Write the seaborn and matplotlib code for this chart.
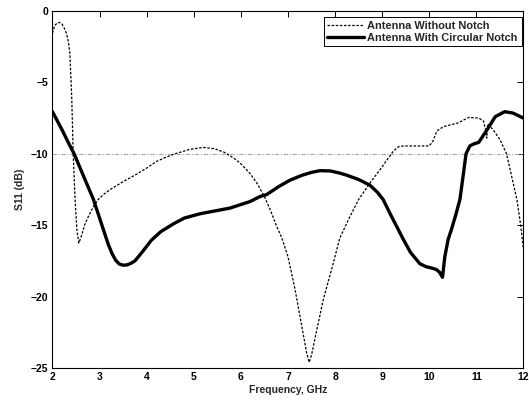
"""S11 comparison: antenna with and without circular notch."""

import matplotlib
matplotlib.use("Agg")
import matplotlib.pyplot as plt
import pandas as pd
import seaborn as sns

# Antenna Without Notch (dashed)
freq_plain = [2.00, 2.05, 2.10, 2.15, 2.20, 2.25, 2.30, 2.34, 2.37, 2.41,
              2.44, 2.48, 2.52, 2.56, 2.62, 2.68, 2.76, 2.87, 2.97, 3.10,
              3.25, 3.50, 3.80, 4.00, 4.20, 4.40, 4.60, 4.90, 5.20, 5.45,
              5.65, 5.85, 6.00, 6.20, 6.35, 6.50, 6.62, 6.75, 6.87, 7.00,
              7.15, 7.30, 7.40, 7.45, 7.50, 7.60, 7.75, 7.95, 8.10, 8.30,
              8.50, 8.74, 9.00, 9.24, 9.35, 9.45, 9.70, 10.00, 10.08, 10.16,
              10.30, 10.60, 10.84, 11.05, 11.15, 11.20, 11.22, 11.24, 11.35, 11.50,
              11.64, 11.75, 11.86, 11.94, 12.00]
s11_plain = [-1.55, -1.0, -0.85, -0.8, -0.9, -1.2, -1.6, -2.2, -3.0, -6.2,
             -10.0, -13.2, -15.4, -16.25, -15.7, -15.0, -14.4, -13.7, -13.2, -12.8,
             -12.45, -11.95, -11.4, -11.0, -10.55, -10.25, -10.0, -9.7, -9.55, -9.65,
             -9.9, -10.3, -10.7, -11.4, -12.1, -13.0, -13.9, -15.0, -15.9, -17.2,
             -19.5, -22.2, -24.0, -24.6, -24.1, -22.5, -20.2, -17.8, -15.9, -14.5,
             -13.2, -12.05, -10.9, -9.8, -9.5, -9.45, -9.45, -9.45, -9.1, -8.4,
             -8.1, -7.85, -7.45, -7.5, -7.7, -8.4, -8.9, -7.9, -8.3, -9.0,
             -10.0, -11.6, -13.2, -15.0, -16.7]

# Antenna With Circular Notch (solid)
freq_notch = [2.00, 2.20, 2.35, 2.46, 2.60, 2.69, 2.78, 2.87, 2.97, 3.08,
              3.18, 3.26, 3.34, 3.42, 3.50, 3.58, 3.66, 3.75, 3.90, 4.10,
              4.30, 4.57, 4.80, 5.13, 5.45, 5.77, 6.00, 6.19, 6.40, 6.55,
              6.80, 7.04, 7.30, 7.50, 7.68, 7.90, 8.10, 8.25, 8.50, 8.74,
              8.90, 9.02, 9.20, 9.45, 9.60, 9.80, 9.93, 10.05, 10.15, 10.22,
              10.28, 10.33, 10.40, 10.47, 10.56, 10.65, 10.72, 10.78, 10.86, 10.95,
              11.05, 11.22, 11.40, 11.60, 11.78, 12.00]
s11_notch = [-7.05, -8.3, -9.3, -10.0, -11.1, -11.8, -12.5, -13.2, -14.2, -15.3,
             -16.3, -16.95, -17.45, -17.72, -17.8, -17.78, -17.68, -17.5, -16.9, -16.05,
             -15.45, -14.9, -14.5, -14.2, -14.0, -13.8, -13.55, -13.35, -13.0, -12.85,
             -12.3, -11.85, -11.5, -11.3, -11.18, -11.2, -11.35, -11.5, -11.8, -12.2,
             -12.7, -13.2, -14.4, -16.0, -16.9, -17.7, -17.9, -18.0, -18.1, -18.3,
             -18.65, -17.2, -16.0, -15.3, -14.3, -13.2, -11.5, -10.0, -9.45, -9.3,
             -9.2, -8.35, -7.4, -7.05, -7.15, -7.5]

x_ticks = [2, 3, 4, 5, 6, 7, 8, 9, 10, 11, 12]
y_ticks = [0, -5, -10, -15, -20, -25]
threshold = -10

sns.set_theme(style="white")
plt.rcParams["font.family"] = ["Liberation Sans", "DejaVu Sans"]
plt.rcParams["font.weight"] = "bold"

df_plain = pd.DataFrame({"freq": freq_plain, "s11": s11_plain})
df_notch = pd.DataFrame({"freq": freq_notch, "s11": s11_notch})

fig = plt.figure(figsize=(5.29, 4.03), dpi=100)
ax = fig.add_axes([0.0992, 0.0868, 0.8904, 0.8859])

ax.axhline(threshold, color="#a8a8a8", lw=0.8, ls=(0, (4, 1.5, 1, 1.5)), zorder=1)

sns.lineplot(data=df_plain, x="freq", y="s11", ax=ax, sort=False, estimator=None,
             color="black", lw=0.9, linestyle=(0, (2.0, 1.3)),
             label="Antenna Without Notch")
sns.lineplot(data=df_notch, x="freq", y="s11", ax=ax, sort=False, estimator=None,
             color="black", lw=2.4, label="Antenna With Circular Notch")

ax.set_xlim(2, 12)
ax.set_ylim(-25, 0)
ax.set_xticks(x_ticks)
ax.set_yticks(y_ticks)
ax.tick_params(direction="in", length=4, width=0.7, top=True, right=True,
               labelsize=7.5, pad=3, colors="black")
for lab in ax.get_xticklabels() + ax.get_yticklabels():
    lab.set_fontweight("bold")
for sp in ax.spines.values():
    sp.set_color("black")
    sp.set_linewidth(0.8)

ax.set_xlabel("Frequency, GHz", fontsize=7.5, fontweight="bold", labelpad=2)
ax.set_ylabel("S11 (dB)", fontsize=7.5, fontweight="bold", labelpad=4)

leg = ax.legend(loc="upper right", bbox_to_anchor=(0.996, 0.983), borderaxespad=0,
                frameon=True, fancybox=False, framealpha=1, edgecolor="black",
                handlelength=3.3, handletextpad=0.35, labelspacing=0.15,
                borderpad=0.35, prop={"size": 7.9, "weight": "bold"})
leg.get_frame().set_linewidth(0.7)

plt.savefig("out.png", dpi=100)
plt.close()
